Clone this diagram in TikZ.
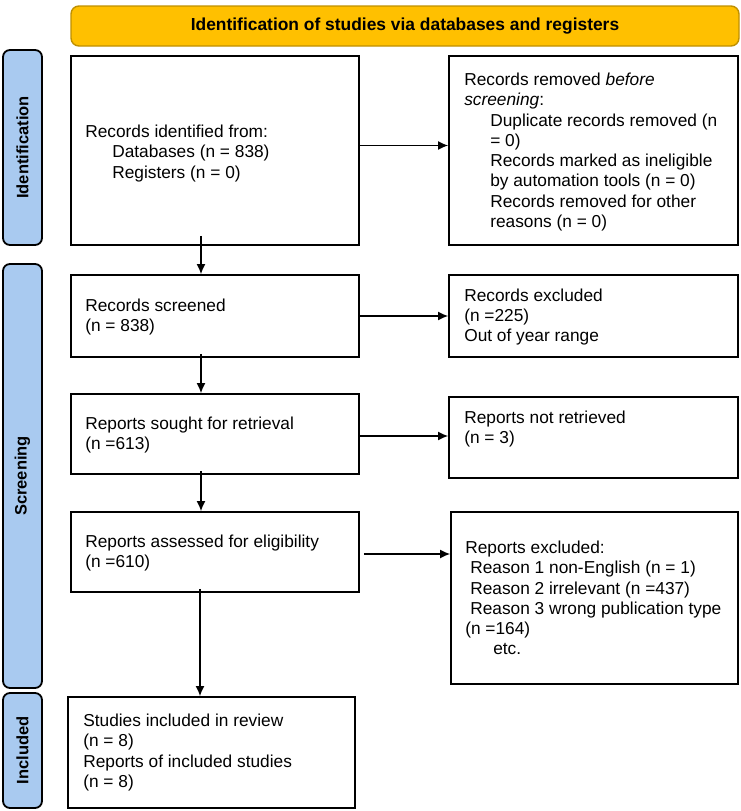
\documentclass[tikz,border=0pt]{standalone}
\usepackage{fontspec}
\setmainfont{Liberation Sans}
\usetikzlibrary{arrows.meta,calc}
\definecolor{gold}{HTML}{FFC000}
\definecolor{goldline}{HTML}{BF9000}
\definecolor{sideblue}{HTML}{A9CAF0}
\begin{document}
\begin{tikzpicture}[x=1pt,y=-1pt,
  box/.style={draw=black, line width=1.8pt, inner sep=0pt},
  txt/.style={anchor=west, align=left, inner sep=0pt, font=\fontsize{17.3}{20.3}\selectfont},
  side/.style={draw=black, line width=1.8pt, fill=sideblue, rounded corners=7pt, rotate=90, inner sep=0pt, font=\fontsize{16.5}{19}\selectfont\bfseries},
  head/.style={draw=goldline, line width=1.4pt, fill=gold, rounded corners=8pt, inner sep=0pt, font=\fontsize{17.4}{20}\selectfont\bfseries},
  arr/.style={line width=1.3pt, -{Latex[length=10pt,width=9pt]}}]
\useasboundingbox (0,0) rectangle (741,811);

% header
\node[head, minimum width=668pt, minimum height=40pt] (hd) at (405,26) {Identification of studies via databases and registers};

% side labels
\node[side, minimum width=195pt, minimum height=39pt] (sid) at (22.5,147.5) {Identification};
\node[side, minimum width=424pt, minimum height=39pt] (sscr) at (22.5,476) {Screening};
\node[side, minimum width=115pt, minimum height=39pt] (sinc) at (22.5,750.5) {Included};

% boxes
\node[box, minimum width=288pt, minimum height=189pt] (b1) at (215,150.5) {};
\node[box, minimum width=289pt, minimum height=189pt] (r1) at (593.5,150.5) {};
\node[box, minimum width=288pt, minimum height=82pt] (b2) at (215,316) {};
\node[box, minimum width=289pt, minimum height=82pt] (r2) at (593.5,316) {};
\node[box, minimum width=288pt, minimum height=80pt] (b3) at (215,434) {};
\node[box, minimum width=289pt, minimum height=81pt] (r3) at (593.5,437.5) {};
\node[box, minimum width=288pt, minimum height=80pt] (b4) at (215,552) {};
\node[box, minimum width=287pt, minimum height=172pt] (r4) at (594.5,598) {};
\node[box, minimum width=287pt, minimum height=111pt] (b5) at (211.5,752.5) {};

% texts
\node[txt] (t1) at ($(b1.west)+(15,3)$) {Records identified from:\\\hspace*{27pt}Databases (n = 838)\\\hspace*{27pt}Registers (n = 0)};
\node[txt] (tr1) at ($(r1.west)+(16,1.5)$) {Records removed \textit{before}\\\textit{screening}:\\\hspace*{26pt}Duplicate records removed (n\\\hspace*{26pt}= 0)\\\hspace*{26pt}Records marked as ineligible\\\hspace*{26pt}by automation tools (n = 0)\\\hspace*{26pt}Records removed for other\\\hspace*{26pt}reasons (n = 0)};
\node[txt] (t2) at ($(b2.west)+(15,1)$) {Records screened\\(n = 838)};
\node[txt] (tr2) at ($(r2.west)+(16,1)$) {Records excluded\\(n =225)\\Out of year range};
\node[txt] (t3) at ($(b3.west)+(15,1)$) {Reports sought for retrieval\\(n =613)};
\node[txt] (tr3) at ($(r3.west)+(16,-8.5)$) {Reports not retrieved\\(n = 3)};
\node[txt] (t4) at ($(b4.west)+(15,1)$) {Reports assessed for eligibility\\(n =610)};
\node[txt] (tr4) at ($(r4.west)+(15,0)$) {Reports excluded:\\\hspace*{5pt}Reason 1 non-English (n = 1)\\\hspace*{5pt}Reason 2 irrelevant (n =437)\\\hspace*{5pt}Reason 3 wrong publication type\\(n =164)\\\hspace*{28pt}etc.};
\node[txt] (t5) at ($(b5.west)+(16,0)$) {Studies included in review\\(n = 8)\\Reports of included studies\\(n = 8)};

% connectors
\coordinate (ax) at (201,0);
\coordinate (bx) at (200,0);
\draw[arr] ($(b1.south -| ax)+(0,-10)$) -- (b2.north -| ax);
\draw[arr] ($(b2.south -| ax)+(0,-4)$) -- (b3.north -| ax);
\draw[arr] ($(b3.south -| ax)+(0,-4)$) -- (b4.north -| ax);
\draw[arr] ($(b4.south -| bx)+(0,-4)$) -- (b5.north -| bx);

\draw[arr] ($(b1.east)+(0,-5)$) coordinate (h1) -- (h1 -| r1.west);
\draw[arr] (b2.east) -- (b2.east -| r2.west);
\draw[arr] ($(b3.east)+(0,2)$) coordinate (h3) -- (h3 -| r3.west);
\draw[arr] ($(b4.east)+(4,2)$) coordinate (h4) -- (h4 -| r4.west);
\end{tikzpicture}
\end{document}
